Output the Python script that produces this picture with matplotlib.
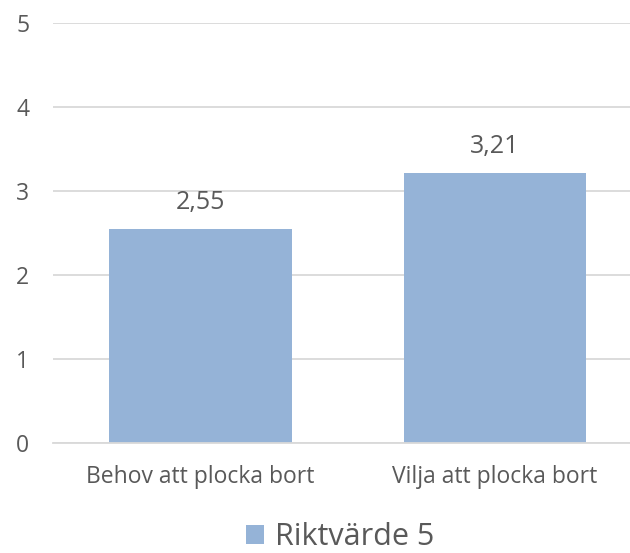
import matplotlib.pyplot as plt
import numpy as np

plt.rcParams['font.family'] = ['Open Sans', 'DejaVu Sans']

categories = ['Behov att plocka bort', 'Vilja att plocka bort']
values = [2.55, 3.21]
series_name = 'Riktvärde 5'
yticks = [0, 1, 2, 3, 4, 5]

bar_color = '#95b3d7'
text_color = '#595959'
grid_color = '#d9d9d9'

fig = plt.figure(figsize=(6.3, 5.53), dpi=100)
ax = fig.add_axes([53 / 630, 110 / 553, 1 - 53 / 630, 420 / 553])

x = np.arange(len(categories))
bars = ax.bar(x, values, width=0.62, color=bar_color, label=series_name, zorder=2)

for xi, v in zip(x, values):
    ax.annotate(f'{v:.2f}'.replace('.', ','), (xi, v), xytext=(0, 10),
                textcoords='offset points', ha='center', va='bottom',
                fontsize=18, color=text_color)

ax.set_xlim(-0.5, 1.458)
ax.set_ylim(0, 5)
ax.set_yticks(yticks)
ax.set_yticklabels([str(t) for t in yticks])
ax.set_xticks(x)
ax.set_xticklabels(categories)
ax.yaxis.grid(True, color=grid_color, linewidth=1.3, zorder=0)
ax.set_axisbelow(True)
for s in ['top', 'right', 'left']:
    ax.spines[s].set_visible(False)
ax.spines['bottom'].set_color(grid_color)
ax.spines['bottom'].set_linewidth(1.3)
ax.tick_params(axis='y', length=0, pad=17, labelsize=16.5, labelcolor=text_color)
ax.tick_params(axis='x', length=0, pad=16, labelsize=16.5, labelcolor=text_color)

fig.legend(handles=[bars], labels=[series_name], loc='center',
           bbox_to_anchor=(0.54, 1 - 537 / 553), frameon=False,
           fontsize=22, labelcolor=text_color, handlelength=0.6,
           handleheight=0.6, handletextpad=0.35)

fig.savefig('out.png', dpi=100)
